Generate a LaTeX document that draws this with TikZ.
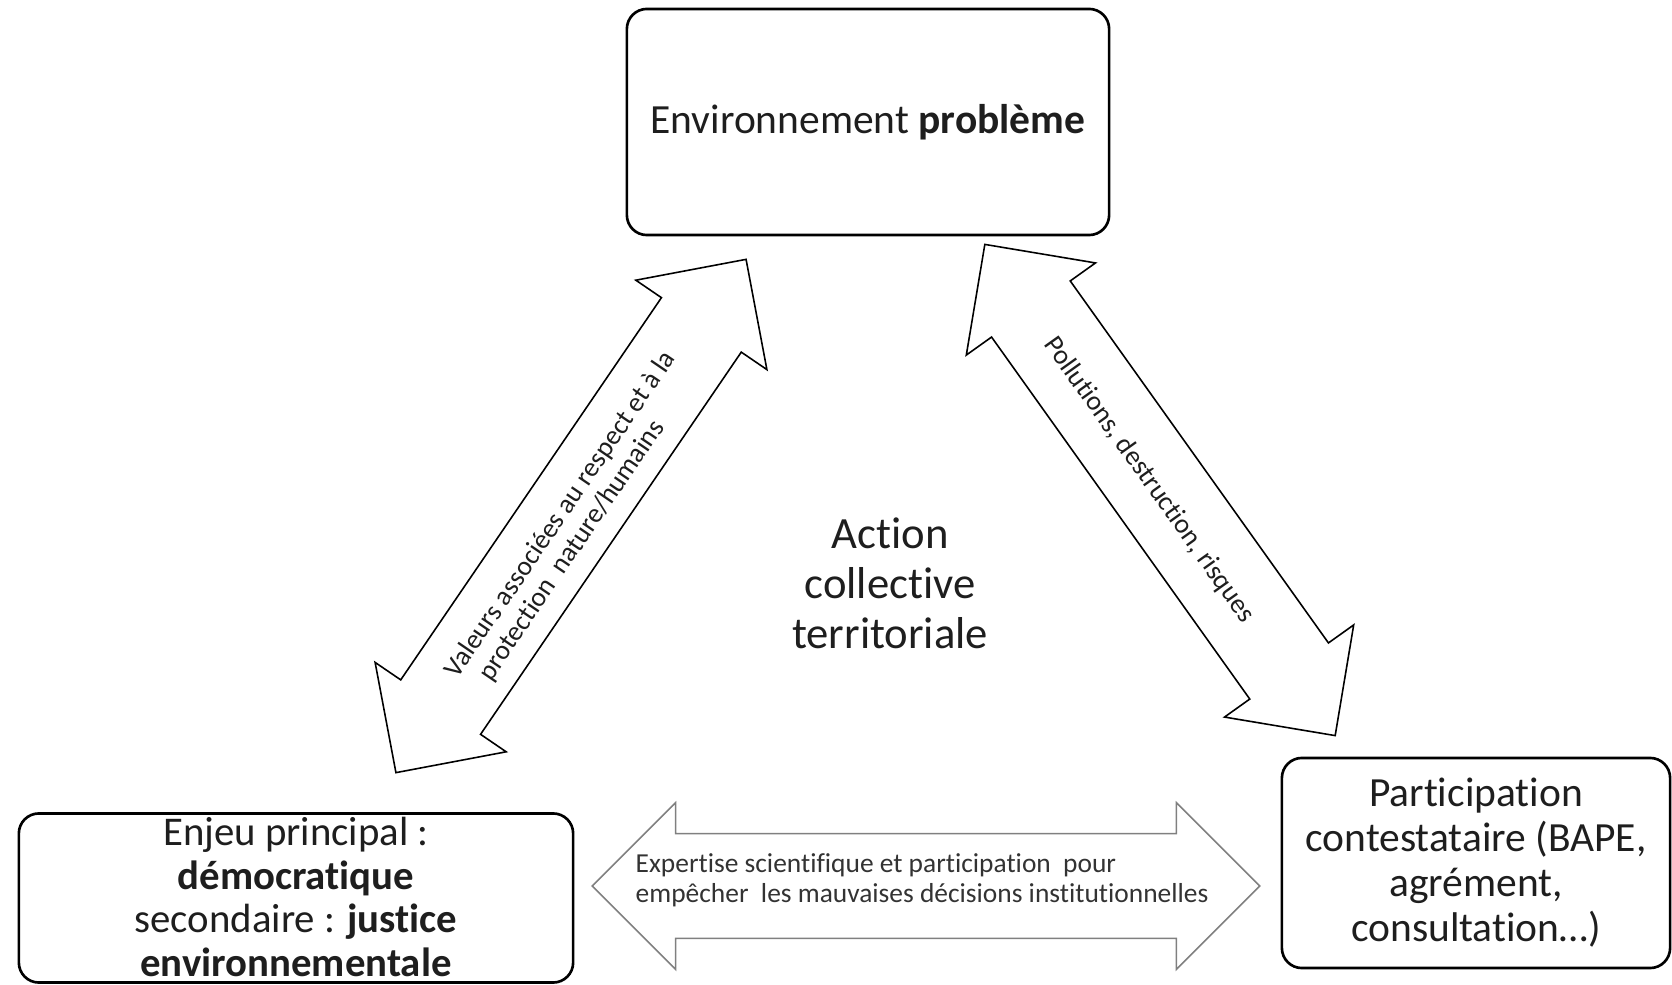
\documentclass[tikz,border=0pt]{standalone}
\usepackage{fontspec}
\setmainfont{Carlito}[Ligatures=NoCommon]
\usetikzlibrary{shapes.arrows}
\definecolor{lightline}{RGB}{128,128,128}
\definecolor{inktext}{RGB}{30,30,30}

\begin{document}
\begin{tikzpicture}[x=0.01cm, y=-0.01cm,
  every node/.style={text=inktext},
  polebox/.style={draw=black, line width=0.75pt, rounded corners=5.7pt, align=center, inner sep=0pt, font=\fontsize{11.8}{12.8}\selectfont},
  blockarrow/.style={double arrow, draw=black, line width=0.45pt, inner xsep=0pt, inner ysep=0.475cm, double arrow head extend=0.31cm},
  arrowlabel/.style={inner sep=0pt, font=\fontsize{7.8}{8.4}\selectfont}]
  \useasboundingbox (0,0) rectangle (1672,985);
  % the three poles
  \node[polebox, minimum width=4.82cm, minimum height=2.26cm] (env) at (868,122) {Environnement \textbf{problème}};
  \node[polebox, minimum width=5.54cm, minimum height=1.69cm] (enjeu) at (296,898) {};
  \node[align=center, inner sep=0pt, font=\fontsize{11.6}{12.5}\selectfont] (enjeutxt) at (296,897) {Enjeu principal :\\ \textbf{démocratique}\\ secondaire : \textbf{justice}\\ \textbf{environnementale}};
  \node[polebox, minimum width=3.88cm, minimum height=2.10cm] (partic) at (1476,863) {Participation\\ contestataire (BAPE,\\ agrément,\\ consultation…)};
  \node[align=center, font=\fontsize{12.7}{14.2}\selectfont] (action) at (890,583) {Action\\ collective\\ territoriale};
  % block arrows between the poles
  \node[blockarrow, rotate=55.7, minimum height=6.21cm] (valeurs) at (571,516) {};
  \node[blockarrow, rotate=-54.5, minimum height=6.03cm] (pollu) at (1160,490) {};
  \node[blockarrow, draw=lightline, minimum height=6.67cm, inner ysep=0.515cm] (expert) at (926,886) {};
  % what the arrows carry
  \node[arrowlabel, align=left, rotate=55.7] (valeurstxt) at (573,523) {Valeurs associées au respect et à la\\ \hspace*{4.8pt}protection\ \ nature/humains};
  \node[arrowlabel, rotate=-54.5] (pollutxt) at (1149,480) {Pollutions, destruction, risques};
  \node[arrowlabel, align=left, anchor=west, text=black!80] (experttxt) at (635,880) {Expertise scientifique et participation\ \ pour\\ empêcher\ \ les mauvaises décisions institutionnelles};
\end{tikzpicture}
\end{document}
